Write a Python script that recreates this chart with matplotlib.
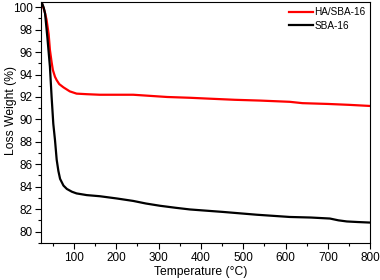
import matplotlib
matplotlib.use("Agg")
import matplotlib.pyplot as plt
from matplotlib.ticker import MultipleLocator

plt.rcParams['font.family'] = ['Liberation Sans', 'DejaVu Sans']

# HA/SBA-16
t_ha = [24, 30, 35, 40, 43, 47, 50, 55, 59, 65, 75, 90, 106, 130, 161, 200, 240, 280, 320, 374, 420, 480, 540, 610, 640, 700, 750, 800]
w_ha = [100.35, 99.7, 98.9, 97.6, 96.2, 95.1, 94.4, 93.8, 93.5, 93.15, 92.86, 92.5, 92.3, 92.25, 92.2, 92.2, 92.2, 92.1, 92.0, 91.93, 91.85, 91.75, 91.68, 91.57, 91.45, 91.38, 91.3, 91.2]
# SBA-16
t_sba = [24, 28, 31.5, 37, 43, 47, 51, 55, 59, 63, 67, 75, 83, 95, 106, 130, 161, 201, 240, 270, 303, 340, 374, 452, 532, 610, 660, 705, 725, 745, 770, 800]
w_sba = [100.4, 100.0, 99.46, 97.3, 94.7, 92.0, 89.6, 88.15, 86.4, 85.4, 84.7, 84.1, 83.8, 83.55, 83.4, 83.25, 83.15, 82.95, 82.73, 82.5, 82.3, 82.12, 81.97, 81.75, 81.5, 81.3, 81.25, 81.16, 81.0, 80.9, 80.85, 80.8]

fig = plt.figure(figsize=(3.8, 2.8), dpi=100)
ax = fig.add_axes([0.108, 0.133, 0.866, 0.861])
ax.plot(t_ha, w_ha, color='#ff0000', lw=1.6, label='HA/SBA-16')
ax.plot(t_sba, w_sba, color='black', lw=1.6, label='SBA-16')

ax.set_xlim(22, 800)
ax.set_ylim(79, 100.5)
ax.xaxis.set_major_locator(MultipleLocator(100))
ax.xaxis.set_minor_locator(MultipleLocator(50))
ax.yaxis.set_major_locator(MultipleLocator(2))
ax.yaxis.set_minor_locator(MultipleLocator(1))
ax.set_xticks(range(100, 801, 100))
ax.set_yticks(range(80, 101, 2))
ax.tick_params(which='both', direction='out', labelsize=8.5, top=False, right=False)
ax.tick_params(which='major', length=4, width=0.8, pad=2)
ax.tick_params(which='minor', length=2.5, width=0.8)
ax.tick_params(axis='x', which='major', pad=3)
ax.set_xlabel('Temperature (°C)', fontsize=8.7)
ax.xaxis.set_label_coords(0.486, -0.095)
ax.set_ylabel('Loss Weight (%)', fontsize=8.7, va='center')
ax.yaxis.set_label_coords(-0.09, 0.55)
for s in ax.spines.values():
    s.set_linewidth(0.8)
ax.legend(loc='upper right', bbox_to_anchor=(1.0, 0.995), frameon=False, fontsize=7.2,
          handlelength=2.4, handletextpad=0.1, borderaxespad=0.0, borderpad=0.45,
          labelspacing=0.35)
fig.savefig('out.png', dpi=100)
